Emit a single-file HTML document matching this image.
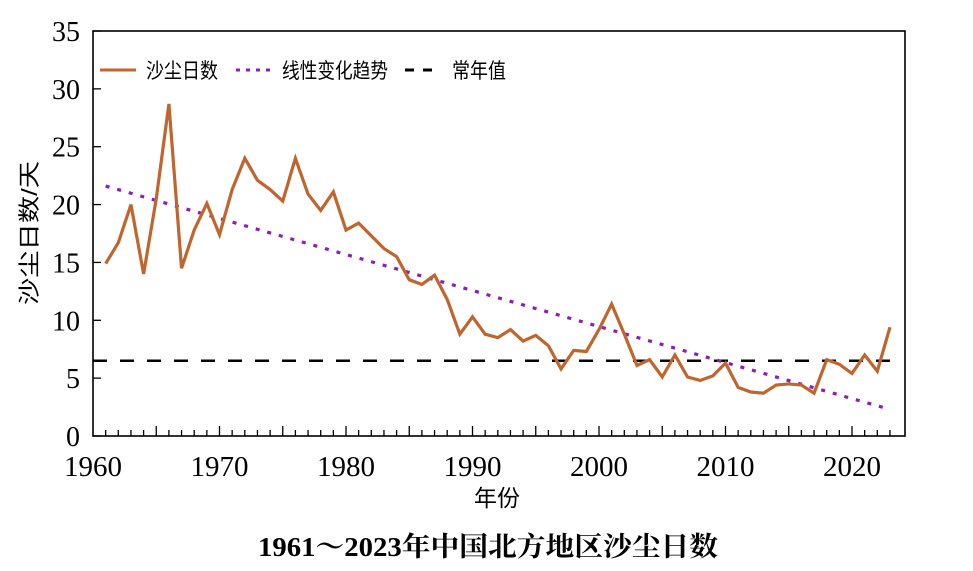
<!DOCTYPE html>
<html><head><meta charset="utf-8"><style>
body{margin:0;background:#fff}
svg text{font-family:"Liberation Serif","Noto Serif CJK SC",serif}
.cjk{font-family:"Liberation Sans","Noto Sans CJK SC",sans-serif !important}
</style></head><body>
<svg id="c" width="973" height="566" xmlns="http://www.w3.org/2000/svg"></svg>
<script>
const years=[];for(let y=1961;y<=2023;y++)years.push(y);
const dustDays=[14.9,16.7,20.0,14.0,20.5,28.7,14.5,17.8,20.1,17.4,21.3,24.0,22.1,21.3,20.3,24.0,20.9,19.5,21.1,17.8,18.4,17.3,16.2,15.5,13.5,13.1,13.9,11.8,8.8,10.3,8.8,8.5,9.2,8.2,8.7,7.8,5.8,7.4,7.3,9.2,11.4,8.8,6.1,6.6,5.1,7.0,5.1,4.8,5.2,6.3,4.2,3.8,3.7,4.4,4.5,4.4,3.7,6.6,6.2,5.4,7.0,5.6,9.4];
const trendEnds=[21.6,2.3];
const normalValue=6.5;
const yTicks=[0,5,10,15,20,25,30,35];
const xTicks=[1960,1970,1980,1990,2000,2010,2020];
const NS="http://www.w3.org/2000/svg",svg=document.getElementById('c');
const L=93,R=905,T=31,B=436;
const xs=y=>L+(y-1960)*12.65, ys=v=>B-v*(B-T)/35;
function el(t,a,p){const e=document.createElementNS(NS,t);for(const k in a)e.setAttribute(k,a[k]);(p||svg).appendChild(e);return e;}
let f=el('rect',{x:L,y:T,width:R-L,height:B-T,fill:'none',stroke:'#000','stroke-width':1.6});


for(let y=1961;y<=2023;y++){const len=y%5==0?10:6;const t=el('line',{x1:xs(y),x2:xs(y),y1:B,y2:B-len,stroke:'#000','stroke-width':1.3});

}
xTicks.forEach(v=>{const t=el('text',{x:xs(v),y:B+40,'font-size':28,'text-anchor':'middle',textLength:58,lengthAdjust:'spacingAndGlyphs'});t.textContent=v;

});
yTicks.forEach(v=>{const l=el('line',{x1:L,x2:L+8,y1:ys(v),y2:ys(v),stroke:'#000','stroke-width':1.3});


const a={x:L-13,y:ys(v)+10,'font-size':28,'text-anchor':'end'};if(v>=10){a.textLength=28;a.lengthAdjust='spacingAndGlyphs';}
const t=el('text',a);t.textContent=v;

});
let n=el('line',{x1:L,x2:xs(2023),y1:ys(normalValue),y2:ys(normalValue),stroke:'#000','stroke-width':2.5,'stroke-dasharray':'14,13'});


let tr=el('line',{x1:xs(1961),x2:xs(2023),y1:ys(trendEnds[0]),y2:ys(trendEnds[1]),stroke:'#8a1fb8','stroke-width':3.2,'stroke-dasharray':'4,8'});


let p=el('polyline',{points:dustDays.map((v,i)=>xs(years[i])+','+ys(v)).join(' '),fill:'none',stroke:'#c0652d','stroke-width':3.2,'stroke-linejoin':'miter'});


</script>
<svg style="position:absolute;left:0;top:0" width="973" height="566" xmlns="http://www.w3.org/2000/svg">
<g>
<line x1="100" x2="136" y1="70" y2="70" stroke="#c0652d" stroke-width="3"/>
<text class="cjk" x="146" y="78" font-size="21" textLength="72" lengthAdjust="spacingAndGlyphs">沙尘日数</text>
<line x1="236" x2="272" y1="70" y2="70" stroke="#8a1fb8" stroke-width="3" stroke-dasharray="4,6"/>
<text class="cjk" x="282" y="78" font-size="21" textLength="106" lengthAdjust="spacingAndGlyphs">线性变化趋势</text>
<line x1="405" x2="433" y1="70" y2="70" stroke="#000" stroke-width="3" stroke-dasharray="9,9"/>
<text class="cjk" x="452" y="78" font-size="21" textLength="54" lengthAdjust="spacingAndGlyphs">常年值</text>
</g>
<text class="cjk" x="0" y="0" font-size="22" text-anchor="middle" textLength="144" lengthAdjust="spacingAndGlyphs" transform="translate(37,233) rotate(-90)">沙尘日数/天</text>
<text class="cjk" x="497" y="506" font-size="23" text-anchor="middle">年份</text>
<text x="488" y="556" font-size="27" font-weight="bold" text-anchor="middle" textLength="460" lengthAdjust="spacingAndGlyphs" style="font-family:'Liberation Serif','Noto Serif CJK SC',serif">1961～2023年中国北方地区沙尘日数</text>
</svg>
</body></html>
